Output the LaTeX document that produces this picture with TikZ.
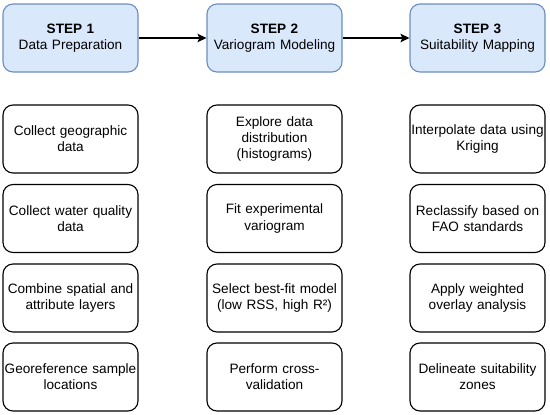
\documentclass[tikz,border=0pt]{standalone}
\usepackage{fontspec}
\setmainfont{Liberation Sans}
\usetikzlibrary{arrows.meta}
\definecolor{hdrfill}{HTML}{DAE8FC}
\definecolor{hdrdraw}{HTML}{6C8EBF}
\begin{document}
\begin{tikzpicture}[x=1pt,y=1pt,
  box/.style={draw=black, line width=1.1pt, rounded corners=10pt, fill=white,
    minimum width=135pt, minimum height=68pt, text width=133pt, inner sep=1pt,
    align=center, font=\fontsize{13.6}{16.1}\selectfont},
  hdr/.style={box, draw=hdrdraw, fill=hdrfill},
  conn/.style={line width=1.2pt, -{Stealth[length=9pt,width=8.5pt,inset=2pt]}}]
\useasboundingbox (0,0) rectangle (550,-415);
\node[hdr] (h1) at (70.5,-38) {\textbf{STEP 1}\\Data Preparation};
\node[hdr] (h2) at (274.5,-38) {\textbf{STEP 2}\\Variogram Modeling};
\node[hdr] (h3) at (477.5,-38) {\textbf{STEP 3}\\Suitability Mapping};
\draw[conn] (h1) -- (h2);
\draw[conn] (h2) -- (h3);
\node[box] (a1) at (70.5,-139) {Collect geographic\\data};
\node[box] (a2) at (70.5,-218.5) {Collect water quality\\data};
\node[box] (a3) at (70.5,-298) {Combine spatial and\\attribute layers};
\node[box] (a4) at (70.5,-377) {Georeference sample\\locations};
\node[box] (b1) at (274.5,-139) {Explore data\\distribution\\(histograms)};
\node[box] (b2) at (274.5,-218.5) {Fit experimental\\variogram};
\node[box] (b3) at (274.5,-298) {Select best-fit model\\(low RSS, high R²)};
\node[box] (b4) at (274.5,-377) {Perform cross-\\validation};
\node[box] (c1) at (477.5,-139) {Interpolate data using\\Kriging};
\node[box] (c2) at (477.5,-218.5) {Reclassify based on\\FAO standards};
\node[box] (c3) at (477.5,-298) {Apply weighted\\overlay analysis};
\node[box] (c4) at (477.5,-377) {Delineate suitability\\zones};
\end{tikzpicture}
\end{document}
